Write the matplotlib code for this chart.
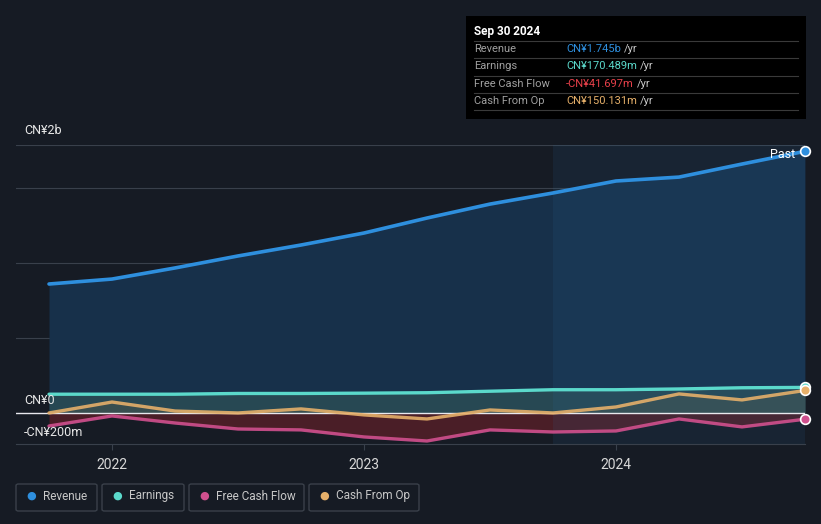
# plot.py
# Revenue, earnings and cash flow history (CN¥), dark theme chart
import numpy as np
import matplotlib.pyplot as plt
from matplotlib.patches import FancyBboxPatch, Rectangle

plt.rcParams['font.family'] = ['Roboto', 'DejaVu Sans']

# quarterly dates, Sep 2021 .. Sep 2024 (as decimal years)
quarters = [2021.75, 2022.0, 2022.25, 2022.5, 2022.75, 2023.0, 2023.25,
            2023.5, 2023.75, 2024.0, 2024.25, 2024.5, 2024.75]
# values in CN¥ billions
revenue = [0.86, 0.893, 0.967, 1.047, 1.12, 1.2, 1.3, 1.393, 1.467, 1.547, 1.573, 1.66, 1.745]
earnings = [0.125, 0.125, 0.125, 0.13, 0.13, 0.132, 0.135, 0.145, 0.155, 0.155, 0.16, 0.168, 0.170489]
free_cash_flow = [-0.087, -0.02, -0.067, -0.107, -0.113, -0.16, -0.187, -0.113, -0.127, -0.12, -0.04, -0.093, -0.041697]
cash_from_op = [0.0, 0.073, 0.013, 0.0, 0.027, -0.013, -0.04, 0.02, 0.0, 0.04, 0.127, 0.087, 0.150131]

year_ticks = [2022, 2023, 2024]
past_start = 2023.75

bg = '#161b24'
c_rev = '#2e8fde'
c_earn = '#5bd9cb'
c_fcf = '#d0508e'
c_cfo = '#e6b06a'

fig = plt.figure(figsize=(8.21, 5.24), dpi=100, facecolor=bg)
ax = fig.add_axes([16 / 821, 80 / 524, 789 / 821, 299 / 524])
ax.set_facecolor(bg)

x = np.array(quarters)
ax.set_xlim(2021.619, 2024.75)
ax.set_ylim(-0.207, 1.787)

# area fills
ax.fill_between(x, revenue, 0, color='#17304a', alpha=1.0, lw=0, zorder=1)
ax.fill_between(x, earnings, 0, color='#2a4d55', alpha=0.85, lw=0, zorder=2)
ax.fill_between(x, cash_from_op, 0, color='#5a5a4a', alpha=0.35, lw=0, zorder=2)
ax.fill_between(x, free_cash_flow, 0, color='#4a1e27', alpha=1.0, lw=0, zorder=2)

# highlighted last year
ax.add_patch(Rectangle((past_start, -0.207), 2024.75 - past_start, 1.994,
                       facecolor='#2a6aa0', alpha=0.12, lw=0, zorder=3))

# grid lines
for g in [0.5, 1.0, 1.5, 1.787]:
    ax.axhline(g, color='#39404b', lw=0.8, zorder=0.5)
ax.axhline(0, color='#e8e8ee', lw=1.0, zorder=4)

# lines
ax.plot(x, revenue, color=c_rev, lw=2.6, zorder=6, solid_capstyle='round')
ax.plot(x, earnings, color=c_earn, lw=2.4, zorder=6, solid_capstyle='round')
ax.plot(x, cash_from_op, color=c_cfo, lw=2.4, zorder=5, alpha=0.9, solid_capstyle='round')
ax.plot(x, free_cash_flow, color=c_fcf, lw=2.4, zorder=5, alpha=0.9, solid_capstyle='round')

# end markers
for series, col in [(revenue, c_rev), (earnings, c_earn), (free_cash_flow, c_fcf), (cash_from_op, c_cfo)]:
    ax.plot(x[-1], series[-1], 'o', ms=7, mfc=col, mec='white', mew=1.2, zorder=8, clip_on=False)

ax.text(2024.71, revenue[-1] - 0.02, 'Past', color='white', fontsize=9,
        ha='right', va='center', zorder=9)

# axes styling
for s in ['top', 'right', 'left']:
    ax.spines[s].set_visible(False)
ax.spines['bottom'].set_color('#39404b')
ax.set_yticks([])
ax.set_xticks(year_ticks)
ax.set_xticklabels([str(y) for y in year_ticks])
ax.tick_params(axis='x', colors='#39404b', labelcolor='#d8d8d8', labelsize=10, length=4, pad=6)

# y labels
fig.text(24 / 821, 1 - 131 / 524, 'CN¥2b', color='#e8e8e8', fontsize=9, va='center')
fig.text(24 / 821, 1 - 401 / 524, 'CN¥0', color='#e8e8e8', fontsize=9, va='center')
fig.text(24 / 821, 1 - 432 / 524, '-CN¥200m', color='#e8e8e8', fontsize=9, va='center')

# tooltip box
fig.patches.append(Rectangle((466 / 821, 1 - 119 / 524), 340 / 821, 103 / 524,
                             transform=fig.transFigure, facecolor='#000000', lw=0))
fig.text(474 / 821, 1 - 31 / 524, 'Sep 30 2024', color='white', fontsize=8.5,
         fontweight='bold', va='center')
rows = [('Revenue', 'CN¥1.745b', c_rev), ('Earnings', 'CN¥170.489m', c_earn),
        ('Free Cash Flow', '-CN¥41.697m', '#e8404a'), ('Cash From Op', 'CN¥150.131m', c_cfo)]
for i, (name, val, col) in enumerate(rows):
    yl = 1 - (41 + 17.3 * i) / 524
    fig.lines.append(plt.Line2D([474 / 821, 798 / 821], [yl, yl], transform=fig.transFigure,
                                color='#3a3a3a', lw=0.8))
    yt = 1 - (49 + 17.3 * i) / 524
    fig.text(474 / 821, yt, name, color='#a0a0a0', fontsize=8, va='center')
    t = fig.text(566 / 821, yt, val, color=col, fontsize=8, va='center')
    fig.canvas.draw()
    bb = t.get_window_extent()
    fig.text(bb.x1 / 821 + 3 / 821, yt, '/yr', color='#c8c8c8', fontsize=8, va='center')
yl = 1 - (41 + 17.3 * 4) / 524
fig.lines.append(plt.Line2D([474 / 821, 798 / 821], [yl, yl], transform=fig.transFigure,
                            color='#3a3a3a', lw=0.8))

# legend boxes
legend = [('Revenue', c_rev, 16, 81), ('Earnings', c_earn, 102, 82),
          ('Free Cash Flow', c_fcf, 189, 115), ('Cash From Op', c_cfo, 309, 110)]
for name, col, x0, w in legend:
    fig.patches.append(FancyBboxPatch((x0 / 821, 1 - 511 / 524), w / 821, 27 / 524,
                                      boxstyle='round,pad=0,rounding_size=0.003',
                                      transform=fig.transFigure, facecolor='none',
                                      edgecolor='#3a404a', lw=1))
    fig.text((x0 + 15) / 821, 1 - 496 / 524, '●', color=col, fontsize=8, va='center', ha='center')
    fig.text((x0 + 27) / 821, 1 - 496 / 524, name, color='#c8c8c8', fontsize=8.5, va='center')

fig.savefig('out.png', dpi=100, facecolor=bg)
